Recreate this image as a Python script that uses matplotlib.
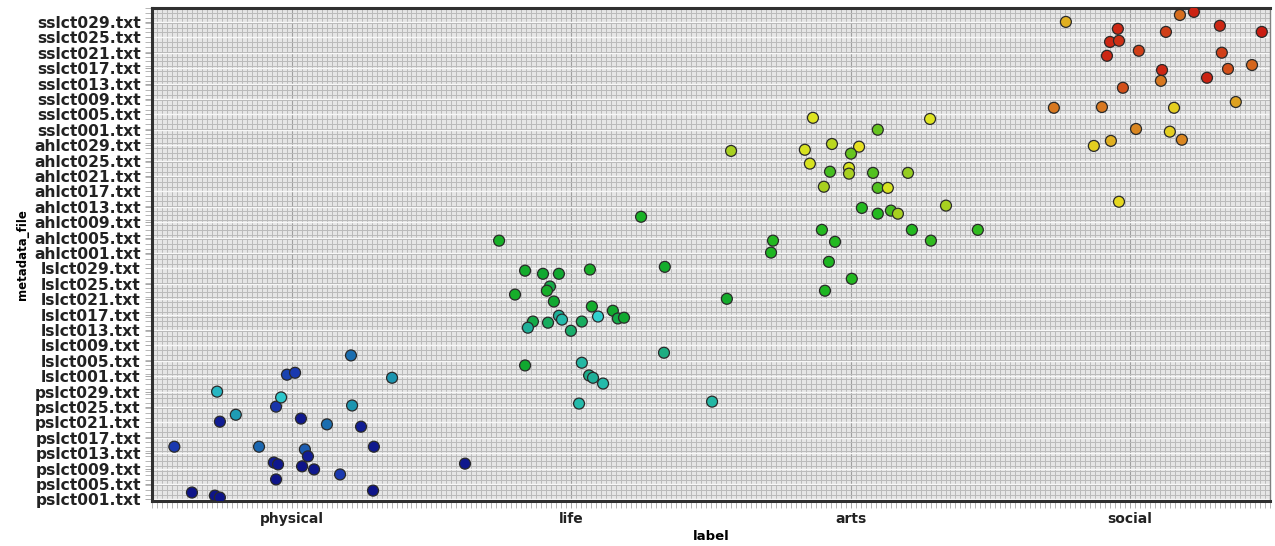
import numpy as np
import matplotlib
matplotlib.use("Agg")
import matplotlib.pyplot as plt
from matplotlib.colors import LinearSegmentedColormap
from matplotlib.ticker import MultipleLocator

categories = ["physical", "life", "arts", "social"]
prefixes = ["pslct", "lslct", "ahlct", "sslct"]
files_per_cat = 32
file_labels = [f"{p}{i:03d}.txt" for p in prefixes for i in range(1, files_per_cat + 1)]
tick_idx = [i for i in range(len(file_labels)) if (i % files_per_cat) % 4 == 0]

# jittered positions (label axis units, file index units) and colour value
phys_x = [-0.42, -0.357, -0.275, -0.257, -0.267, -0.257, -0.20, -0.117, -0.056, -0.064,
          -0.049, -0.056, -0.038, -0.017, 0.012, 0.033, 0.047, 0.058, 0.037, 0.080,
          0.126, 0.173, 0.212, 0.216, 0.248, 0.294, 0.291, 0.359, 0.62]
phys_y = [13.7, 1.8, 1.0, 0.5, 28.0, 20.2, 22.0, 13.7, 24.1, 9.6,
          9.1, 5.2, 26.5, 32.4, 32.9, 21.0, 13.0, 11.2, 8.6, 7.8,
          19.5, 6.5, 37.4, 24.4, 18.9, 13.7, 2.3, 31.6, 9.3]
phys_c = [0.10, 0.02, 0.02, 0.02, 0.24, 0.04, 0.21, 0.15, 0.09, 0.04,
          0.03, 0.02, 0.26, 0.11, 0.10, 0.03, 0.14, 0.04, 0.02, 0.03,
          0.16, 0.10, 0.16, 0.20, 0.04, 0.03, 0.02, 0.20, 0.03]

life_x = [0.742, 1.25, 0.835, 0.899, 0.956, 1.067, 1.335, 0.924, 0.913, 0.799,
          0.938, 1.557, 1.074, 1.149, 1.096, 1.167, 1.189, 0.956, 0.967, 0.863,
          0.845, 0.917, 1.038, 0.999, 0.835, 1.038, 1.332, 1.064, 1.078, 1.114,
          1.028, 1.504]
life_y = [67.2, 73.4, 59.4, 58.6, 58.6, 59.7, 60.4, 55.3, 54.2, 53.2,
          51.4, 52.1, 50.1, 49.0, 47.5, 47.0, 47.2, 47.7, 46.7, 46.2,
          44.6, 45.9, 46.2, 43.8, 34.8, 35.5, 38.1, 32.2, 31.6, 30.1,
          24.9, 25.4]
life_c = [0.46, 0.47, 0.44, 0.42, 0.42, 0.46, 0.44, 0.40, 0.45, 0.45,
          0.42, 0.44, 0.44, 0.43, 0.27, 0.40, 0.42, 0.33, 0.31, 0.40,
          0.33, 0.38, 0.38, 0.37, 0.42, 0.32, 0.35, 0.34, 0.33, 0.31,
          0.31, 0.32]

arts_x = [1.572, 1.865, 2.284, 2.097, 1.836, 1.933, 2.03, 2.001, 1.854, 1.994,
          1.926, 1.994, 2.08, 2.205, 1.904, 2.097, 2.133, 2.040, 2.097, 2.144,
          2.169, 2.341, 1.897, 1.944, 2.219, 2.287, 2.455, 1.722, 1.715, 1.922,
          2.004, 1.908]
arts_y = [90.5, 99.1, 98.8, 96.0, 90.8, 92.3, 91.6, 89.8, 87.2, 86.1,
          85.1, 84.6, 84.8, 84.8, 81.2, 80.9, 80.9, 75.7, 74.2, 75.0,
          74.2, 76.3, 70.0, 66.9, 70.0, 67.2, 70.0, 67.2, 64.1, 61.7,
          57.3, 54.2]
arts_c = [0.58, 0.64, 0.64, 0.54, 0.63, 0.60, 0.66, 0.54, 0.63, 0.63,
          0.52, 0.58, 0.53, 0.57, 0.58, 0.53, 0.63, 0.50, 0.50, 0.52,
          0.58, 0.58, 0.50, 0.50, 0.50, 0.51, 0.51, 0.50, 0.49, 0.49,
          0.50, 0.49]

soc_x = [2.770, 2.956, 3.178, 3.228, 3.321, 3.471, 3.128, 2.928, 2.96, 3.031,
         2.917, 3.328, 3.114, 3.350, 3.436, 3.275, 3.11, 2.974, 2.727, 2.899,
         3.157, 3.378, 3.021, 3.142, 3.185, 2.931, 2.870, 2.96]
soc_y = [124.0, 122.2, 125.8, 126.6, 123.0, 121.4, 121.4, 118.8, 119.1, 116.5,
         115.2, 116.0, 111.5, 111.8, 112.8, 109.5, 108.7, 106.9, 101.7, 101.9,
         101.7, 103.2, 96.2, 95.5, 93.4, 93.1, 91.8, 77.3]
soc_c = [0.72, 0.95, 0.82, 0.96, 0.95, 0.97, 0.90, 0.95, 0.93, 0.90,
         0.95, 0.90, 0.95, 0.87, 0.83, 0.96, 0.80, 0.87, 0.80, 0.80,
         0.68, 0.74, 0.78, 0.68, 0.78, 0.72, 0.68, 0.67]

cmap = LinearSegmentedColormap.from_list("rm", [
    (0.0, "#0b0b80"), (0.1, "#1a3ab0"), (0.2, "#1c95b0"), (0.27, "#30d0d0"),
    (0.33, "#20b098"), (0.42, "#10a830"), (0.5, "#20b820"), (0.58, "#a8d020"),
    (0.65, "#e8e820"), (0.72, "#e0b020"), (0.8, "#d87820"), (0.9, "#d04018"),
    (1.0, "#c81010")])

xs = phys_x + life_x + arts_x + soc_x
ys = phys_y + life_y + arts_y + soc_y
cs = phys_c + life_c + arts_c + soc_c

fig = plt.figure(figsize=(12.75, 5.46), dpi=100)
ax = fig.add_axes([0.1192, 0.0824, 0.8768, 0.9029])
ax.set_facecolor("#e6e6e6")

ax.scatter(xs, ys, c=cs, cmap=cmap, vmin=0, vmax=1, s=62,
           edgecolors="#2a2a2a", linewidths=0.9, zorder=3)

ax.set_xlim(-0.5, 3.5)
ax.set_ylim(-0.4, 127.6)
ax.set_xticks(range(len(categories)))
ax.set_xticklabels(categories, fontsize=10, fontweight="bold", color="#222")
ax.set_yticks(tick_idx)
ax.set_yticklabels([file_labels[i] for i in tick_idx], fontsize=11.2,
                   fontweight="bold", color="#222")
ax.xaxis.set_minor_locator(MultipleLocator(1 / 56))
ax.yaxis.set_minor_locator(MultipleLocator(1.25))
ax.grid(which="minor", color="#bababa", linewidth=0.7, zorder=0)
ax.grid(which="major", axis="y", color="#f8f8f8", linewidth=1.0, zorder=1)
ax.grid(which="major", axis="x", color="#a0a0a0", linewidth=0.8, zorder=1)
ax.set_axisbelow(True)
ax.tick_params(which="minor", direction="out", length=5, width=0.5, color="#999")
ax.tick_params(which="major", direction="out", length=5, width=0.6, color="#999", pad=3)

for side in ["left", "bottom", "top"]:
    ax.spines[side].set_linewidth(2.2)
    ax.spines[side].set_color("#303030")
ax.spines["right"].set_linewidth(1)
ax.spines["right"].set_color("#808080")

ax.set_xlabel("label", fontsize=9.5, fontweight="bold", labelpad=3)
ax.set_ylabel("metadata_file", fontsize=8.5, fontweight="bold", labelpad=4)

fig.savefig("out.png", dpi=100)
